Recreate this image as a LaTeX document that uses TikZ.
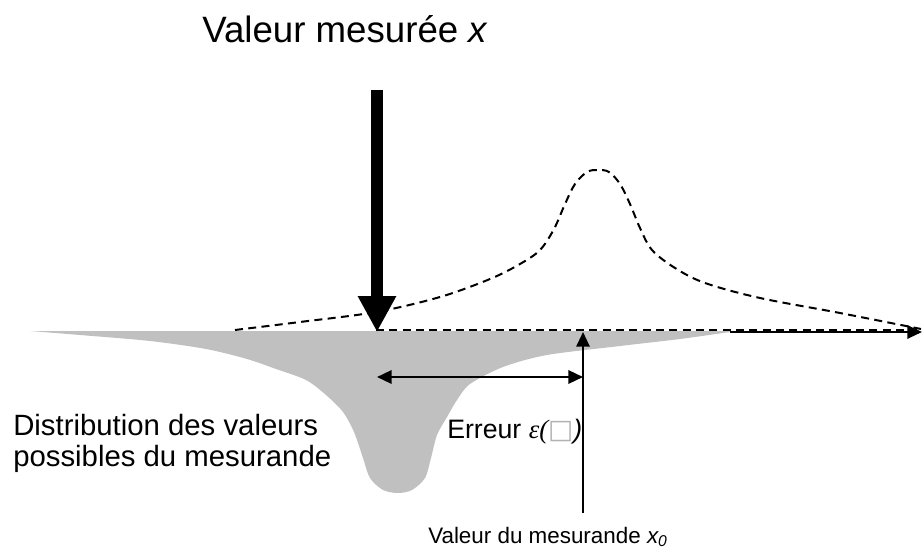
\documentclass[tikz,border=0pt]{standalone}
\usepackage{fontspec}
\setmainfont{Liberation Sans}
\newfontfamily\timesfont{Liberation Serif}
\newfontfamily\symbfont{DejaVu Sans}
\usepackage{tikz}
\usetikzlibrary{
	arrows.meta,
	positioning
}
\definecolor{distgray}{RGB}{192,192,192}

\begin{document}
\begin{tikzpicture}[
				x=0.75pt, y=-0.75pt,
				toplabel/.style={
					inner sep=0pt, anchor=base west,
					font=\fontsize{27.5}{30}\selectfont
				},
				textlabel/.style={
					inner sep=0pt, align=left,
					font=\fontsize{22}{23}\selectfont
				},
				smalllabel/.style={
					inner sep=0pt, anchor=base west,
					font=\fontsize{20}{22}\selectfont
				},
				bottomlabel/.style={
					smalllabel, font=\fontsize{16.8}{18}\selectfont
				},
				bigarrow/.style={-{Triangle[length=27pt, width=27pt]}, line width=9pt},
				arrow/.style={-{Triangle[length=11pt, width=10pt]}, line width=1.5pt},
				dblarrow/.style={{Triangle[length=11pt, width=10pt]}-{Triangle[length=11pt, width=10pt]}, line width=1.8pt},
				dashcurve/.style={line width=1.5pt, dash pattern=on 6pt off 4pt},
				]
				\useasboundingbox (0,0) rectangle (923,552);
				
				%distribution (gray)
				\fill[distgray] (30,331) -- (730,331)
					-- plot[smooth, tension=0.5] coordinates {(730,332) (680,339) (620,346) (547,355) (503,367) (470,384) (457,400) (447,417) (437,435) (431,458) (425,478) (412,490) (398,493) (383,490) (370,478) (363,458) (354,432) (343,412) (326,395) (306,380) (276,369) (247,359) (206,349) (150,341) (80,335) (30,331)}
					-- cycle;
				
				%dashed curve
				\draw[dashcurve] plot[smooth, tension=0.55] coordinates {(235,330) (300,322) (376,312) (440,297) (490,279) (520,264) (540,250) (554,229) (565,204) (575,184) (587,172) (598,170) (609,172) (620,184) (630,204) (640,228) (652,250) (675,268) (705,283) (760,298) (840,313) (921,329)};
				
				%axis
				\coordinate (axstart) at (730,332);
				\coordinate (axend) at (922,332);
				\draw[arrow] (axstart) -- (axend);
				\coordinate (dashstart) at (376,330);
				\draw[dashcurve] (dashstart) -- (axend |- dashstart);
				
				%measured value
				\node[toplabel] (measured) at (202,43) {Valeur mesurée \textit{x}};
				\coordinate (xmtop) at (377,90);
				\coordinate (xm) at (377,332);
				\draw[bigarrow] (xmtop) -- (xm);
				
				%true value
				\coordinate (x0bot) at (583,513);
				\coordinate (x0) at (583,332);
				\draw[arrow] (x0bot) -- (x0);
				\node[bottomlabel] (truelabel) at (428,543) {Valeur du mesurande \textit{x\textsubscript{0}}};
				
				%error
				\coordinate (errl) at (377,377);
				\coordinate (errr) at (583,377);
				\draw[dblarrow] (errl) -- (errr);
				\node[smalllabel] (error) at (447,438) {Erreur {\timesfont\itshape ε(}{\symbfont\color{gray!60}□}\textit{)}};
				
				%distribution label
				\node[textlabel, anchor=north west] (distlabel) at (13,414) {Distribution des valeurs\\possibles du mesurande};
			\end{tikzpicture}
\end{document}
